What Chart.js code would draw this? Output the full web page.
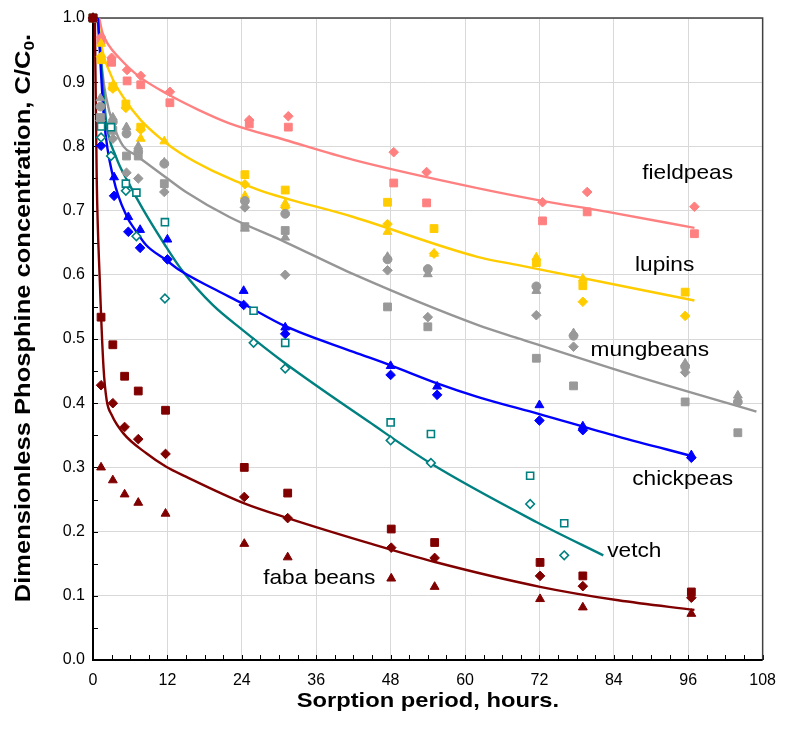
<!DOCTYPE html>
<html>
<head>
<meta charset="utf-8">
<script src="https://cdn.jsdelivr.net/npm/chart.js@4.4.1/dist/chart.umd.min.js"></script>
<style>
  html, body { margin: 0; padding: 0; background: #fff; }
  canvas { display: block; }
</style>
</head>
<body>
<canvas id="sorption" width="787" height="745"></canvas>
<script>
// --- measured points (hours, C/C0) ---
// fieldpeas
const fpTimes = [0, 1.3, 3.0, 5.5, 7.7, 12.4, 25.2, 31.5, 48.5, 53.8, 72.5, 79.7, 97.0];
const fpDiamond = [1.0, 0.970, 0.938, 0.919, 0.910, 0.885, 0.841, 0.847, 0.791, 0.760, 0.713, 0.729, 0.706];
const fpSquare = [1.0, 0.965, 0.931, 0.902, 0.896, 0.868, 0.835, 0.830, 0.743, 0.712, 0.684, 0.698, 0.664];

// lupins
const lpTimes = [0, 1.3, 3.2, 5.3, 7.7, 11.5, 24.5, 31.0, 47.5, 55.0, 71.5, 79.0, 95.5];
const lpDiamond = [1.0, 0.940, 0.890, 0.860, 0.826, null, 0.741, 0.705, 0.679, 0.633, null, 0.558, 0.536];
const lpSquare = [1.0, 0.935, 0.893, 0.866, 0.830, null, 0.756, 0.732, 0.713, 0.672, 0.619, 0.583, 0.573];
const lpTriangle = [1.0, 0.960, 0.895, 0.863, 0.812, 0.808, 0.723, 0.711, 0.667, 0.633, 0.627, 0.594, null];

// mungbeans
const mbTimes = [0, 1.2, 3.2, 5.4, 7.3, 11.5, 24.5, 31.0, 47.5, 54.0, 71.5, 77.5, 95.5, 104.0];
const mbDiamond = [1.0, 0.840, 0.812, 0.759, 0.750, 0.729, 0.705, 0.600, 0.607, 0.534, 0.537, 0.488, 0.448, null];
const mbSquare = [1.0, 0.845, 0.825, 0.785, 0.785, 0.742, 0.675, 0.669, 0.550, 0.519, 0.470, 0.427, 0.402, 0.354];
const mbTriangle = [1.0, 0.875, 0.845, 0.830, 0.800, 0.775, 0.672, 0.658, 0.628, 0.601, 0.575, 0.509, 0.462, 0.412];
const mbCircle = [1.0, 0.862, 0.838, 0.820, 0.792, 0.773, 0.715, 0.695, 0.624, 0.609, 0.582, 0.505, 0.457, 0.402];

// chickpeas
const cpTimes = [0, 1.3, 3.4, 5.7, 7.6, 12.0, 24.3, 31.0, 48.0, 55.5, 72.0, 79.0, 96.5];
const cpTriangle = [1.0, null, 0.752, 0.690, 0.670, 0.655, 0.575, 0.518, 0.458, 0.426, 0.397, 0.364, 0.319];
const cpDiamond = [1.0, 0.801, 0.723, 0.667, 0.642, 0.624, 0.553, 0.508, 0.444, 0.413, 0.373, 0.358, 0.315];

// vetch
const vtTimes = [0, 1.3, 2.9, 5.3, 7.0, 11.6, 25.9, 31.0, 48.0, 54.5, 70.5, 76.0];
const vtSquare = [1.0, 0.831, 0.830, 0.742, 0.728, 0.682, 0.544, 0.494, 0.370, 0.352, 0.287, 0.213];
const vtDiamond = [1.0, 0.814, 0.785, 0.731, 0.660, 0.563, 0.494, 0.454, 0.342, 0.307, 0.243, 0.163];

// faba beans
const fbTimes = [0, 1.3, 3.2, 5.1, 7.3, 11.7, 24.4, 31.4, 48.1, 55.1, 72.1, 79.0, 96.5];
const fbSquare = [1.0, 0.534, 0.491, 0.442, 0.419, 0.389, 0.300, 0.260, 0.204, 0.183, 0.152, 0.131, 0.106];
const fbDiamond = [1.0, 0.428, 0.400, 0.363, 0.344, 0.321, 0.254, 0.221, 0.175, 0.159, 0.131, 0.115, 0.097];
const fbTriangle = [1.0, 0.300, 0.280, 0.258, 0.245, 0.228, 0.181, 0.160, 0.127, 0.114, 0.095, 0.082, 0.072];

// --- fitted curves ---
const fpFitT = [1.0, 1.5, 2.5, 4.2, 7.4, 12.3, 17, 22, 31, 42, 62, 72, 83, 97];
const fpFitY = [1.0, 0.978, 0.958, 0.938, 0.909, 0.880, 0.857, 0.836, 0.810, 0.779, 0.735, 0.716, 0.698, 0.673];
const lpFitT = [0.8, 1.3, 2.9, 5, 7.7, 11.2, 14, 19.3, 26.8, 42, 62, 68.6, 97];
const lpFitY = [1.0, 0.960, 0.911, 0.875, 0.841, 0.810, 0.790, 0.762, 0.732, 0.690, 0.628, 0.615, 0.560];
const mbFitT = [0.7, 1.6, 2.1, 3.3, 4.9, 6.8, 12, 15, 22, 31, 42, 62, 68.6, 88, 107];
const mbFitY = [1.0, 0.909, 0.877, 0.833, 0.800, 0.787, 0.750, 0.729, 0.690, 0.651, 0.601, 0.522, 0.501, 0.441, 0.387];
const cpFitT = [0.8, 1.8, 3.3, 5.5, 6.8, 8.6, 11.8, 14, 19.3, 24.2, 31, 42, 48, 55.5, 62, 72, 84.7, 96.5];
const cpFitY = [1.0, 0.840, 0.750, 0.690, 0.670, 0.646, 0.623, 0.607, 0.579, 0.555, 0.520, 0.480, 0.459, 0.431, 0.410, 0.383, 0.348, 0.318];
const vtFitT = [0.8, 2.1, 3.7, 5.8, 8, 11.5, 14.5, 19.3, 24, 30.6, 44.5, 54.5, 71.5, 82.3];
const vtFitY = [1.0, 0.841, 0.784, 0.742, 0.703, 0.648, 0.605, 0.553, 0.515, 0.465, 0.371, 0.306, 0.215, 0.163];
const fbFitT = [0.3, 0.6, 1.1, 1.7, 2.2, 3, 4.9, 8.6, 11.8, 14.9, 24.4, 31.4, 44.5, 55, 72.1, 84.7, 97];
const fbFitY = [1.0, 0.750, 0.590, 0.455, 0.405, 0.382, 0.353, 0.322, 0.301, 0.286, 0.244, 0.221, 0.182, 0.153, 0.114, 0.093, 0.078];

const FONT = '"Liberation Sans", Arial, sans-serif';
const RADIUS = { rect: 5.5, rectRot: 4.8, triangle: 5.1, circle: 4.4 };

function pts(times, vals) {
    const out = [];
    vals.forEach((v, i) => { if (v !== null) out.push({ x: times[i], y: v }); });
    return out;
}

function markers(times, vals, style, color, hollow) {
    return {
        data: pts(times, vals),
        showLine: false,
        pointStyle: style,
        pointRadius: hollow ? RADIUS[style] - 0.5 : RADIUS[style],
        backgroundColor: hollow ? '#ffffff' : color,
        borderColor: color,
        borderWidth: hollow ? 1.6 : 1,
        clip: false
    };
}

function curve(times, vals, color) {
    return {
        data: pts(times, vals),
        showLine: true,
        pointRadius: 0,
        borderColor: color,
        borderWidth: 2.4,
        cubicInterpolationMode: 'monotone',
        fill: false
    };
}

const PINK = '#ff8080', GOLD = '#ffcc00', GREY = '#999999', BLUE = '#0000ff', TEAL = '#008080', MAROON = '#800000';

// first dataset ends up on top
const datasets = [
    markers(fbTimes, fbSquare, 'rect', MAROON),
    markers(fbTimes, fbDiamond, 'rectRot', MAROON),
    markers(fbTimes, fbTriangle, 'triangle', MAROON),
    markers(vtTimes, vtSquare, 'rect', TEAL, true),
    markers(vtTimes, vtDiamond, 'rectRot', TEAL, true),
    markers(cpTimes, cpTriangle, 'triangle', BLUE),
    markers(cpTimes, cpDiamond, 'rectRot', BLUE),
    markers(mbTimes, mbTriangle, 'triangle', GREY),
    markers(mbTimes, mbCircle, 'circle', GREY),
    markers(mbTimes, mbSquare, 'rect', GREY),
    markers(mbTimes, mbDiamond, 'rectRot', GREY),
    markers(lpTimes, lpTriangle, 'triangle', GOLD),
    markers(lpTimes, lpSquare, 'rect', GOLD),
    markers(lpTimes, lpDiamond, 'rectRot', GOLD),
    markers(fpTimes, fpSquare, 'rect', PINK),
    markers(fpTimes, fpDiamond, 'rectRot', PINK),
    curve(fbFitT, fbFitY, MAROON),
    curve(cpFitT, cpFitY, BLUE),
    curve(vtFitT, vtFitY, TEAL),
    curve(mbFitT, mbFitY, '#969696'),
    curve(lpFitT, lpFitY, GOLD),
    curve(fpFitT, fpFitY, PINK)
];

// series names written next to the curves (data coordinates)
const seriesLabels = [
    { text: 'fieldpeas', x: 95.9, y: 0.759 },
    { text: 'lupins', x: 92.2, y: 0.615 },
    { text: 'mungbeans', x: 89.8, y: 0.482 },
    { text: 'chickpeas', x: 95.1, y: 0.282 },
    { text: 'vetch', x: 87.3, y: 0.170 },
    { text: 'faba beans', x: 36.5, y: 0.128 }
];

// frame, inward tick marks, titles and curve names
const decorations = {
    id: 'decorations',
    beforeDatasetsDraw(chart) {
        const { ctx, chartArea: a, scales } = chart;
        ctx.save();
        ctx.strokeStyle = '#000';
        ctx.lineWidth = 1;
        for (let v = 0; v <= 1.0001; v += 0.05) {
            const y = Math.round(scales.y.getPixelForValue(v)) + 0.5;
            ctx.beginPath(); ctx.moveTo(a.left, y); ctx.lineTo(a.left + 5, y); ctx.stroke();
        }
        for (let h = 0; h <= 108; h += 3) {
            const x = Math.round(scales.x.getPixelForValue(h)) + 0.5;
            ctx.beginPath(); ctx.moveTo(x, a.bottom); ctx.lineTo(x, a.bottom - 5); ctx.stroke();
        }
        ctx.strokeStyle = '#404040';
        ctx.lineWidth = 1.5;
        ctx.beginPath();
        ctx.moveTo(a.left, a.top); ctx.lineTo(a.right, a.top); ctx.lineTo(a.right, a.bottom);
        ctx.stroke();
        ctx.strokeStyle = '#000';
        ctx.lineWidth = 2;
        ctx.beginPath();
        ctx.moveTo(a.left, a.top); ctx.lineTo(a.left, a.bottom); ctx.lineTo(a.right, a.bottom);
        ctx.stroke();
        ctx.restore();
    },
    afterDraw(chart) {
        const { ctx, chartArea: a, scales } = chart;
        ctx.save();
        ctx.fillStyle = '#000';
        ctx.textBaseline = 'middle';

        // x title
        ctx.save();
        ctx.font = 'bold 21px ' + FONT;
        ctx.textAlign = 'center';
        ctx.translate((a.left + a.right) / 2, 701);
        ctx.scale(1.13, 1);
        ctx.fillText('Sorption period, hours.', 0, 0);
        ctx.restore();

        // y title with subscript
        ctx.save();
        ctx.translate(24, 318);
        ctx.rotate(-Math.PI / 2);
        ctx.scale(1.16, 1);
        const main = 'Dimensionless Phosphine concentration, C/C';
        const bold = 'bold 22px ' + FONT, small = 'bold 15px ' + FONT;
        ctx.font = bold; const w1 = ctx.measureText(main).width; const w3 = ctx.measureText('.').width;
        ctx.font = small; const w2 = ctx.measureText('0').width;
        let x0 = -(w1 + w2 + w3) / 2;
        ctx.textAlign = 'left';
        ctx.font = bold; ctx.fillText(main, x0, 0);
        ctx.font = small; ctx.fillText('0', x0 + w1, 6);
        ctx.font = bold; ctx.fillText('.', x0 + w1 + w2, 0);
        ctx.restore();

        // curve names
        ctx.font = '21px ' + FONT;
        ctx.textAlign = 'center';
        seriesLabels.forEach(l => {
            ctx.save();
            ctx.translate(scales.x.getPixelForValue(l.x), scales.y.getPixelForValue(l.y));
            ctx.scale(1.08, 1);
            ctx.fillText(l.text, 0, 0);
            ctx.restore();
        });
        ctx.restore();
    }
};

const ctx = document.getElementById('sorption').getContext('2d');
new Chart(ctx, {
    type: 'scatter',
    data: { datasets: datasets },
    plugins: [decorations],
    options: {
        responsive: false,
        animation: false,
        events: [],
        layout: { padding: { left: 0, right: 22, top: 18, bottom: 0 } },
        plugins: { legend: { display: false }, tooltip: { enabled: false } },
        scales: {
            x: {
                type: 'linear',
                min: 0,
                max: 108,
                afterFit: s => { s.height = 85; },
                border: { display: false },
                grid: { color: '#d9d9d9', lineWidth: 1, drawTicks: false },
                ticks: { stepSize: 12, color: '#000', padding: 11, font: { family: FONT, size: 16 } }
            },
            y: {
                min: 0,
                max: 1,
                afterFit: s => { s.width = 93; },
                border: { display: false },
                grid: { color: '#d9d9d9', lineWidth: 1, drawTicks: false },
                ticks: {
                    stepSize: 0.1, color: '#000', padding: 8,
                    font: { family: FONT, size: 16 },
                    callback: v => Number(v).toFixed(1)
                }
            }
        }
    }
});
</script>
</body>
</html>
